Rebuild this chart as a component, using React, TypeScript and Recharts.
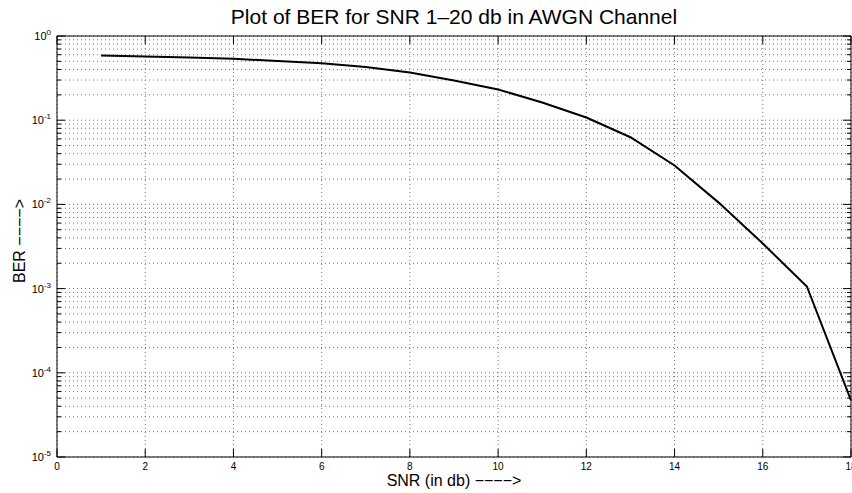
import React from 'react';
import { LineChart, Line, XAxis, YAxis, CartesianGrid, ReferenceArea } from 'recharts';

const snr = [1, 2, 3, 4, 5, 6, 7, 8, 9, 10, 11, 12, 13, 14, 15, 16, 17, 18];
const ber = [
  0.587, 0.571, 0.556, 0.536, 0.505, 0.475, 0.428, 0.369, 0.296,
  0.232, 0.162, 0.1076, 0.0628, 0.029, 0.0105, 0.00343, 0.00106, 0.000047,
];

const xTicks = [0, 2, 4, 6, 8, 10, 12, 14, 16, 18];
const yExponents = [-5, -4, -3, -2, -1, 0];
const yMantissas = [1, 2, 3, 4, 5, 6, 7, 8, 9];

const data = snr.map((s, i) => ({ snr: s, ber: ber[i] }));

// log-scale ticks: each decade plus its minor steps
const yTicks: number[] = [];
yExponents.forEach((e, i) => {
  if (i === yExponents.length - 1) {
    yTicks.push(Math.pow(10, e));
    return;
  }
  yMantissas.forEach((m) => yTicks.push(Number((m * Math.pow(10, e)).toPrecision(3))));
});

const W = 852;
const H = 493;
const PLOT_L = 57;
const PLOT_R = 851;
const PLOT_T = 36;
const PLOT_B = 457;
const FONT = '"Liberation Sans", Arial, sans-serif';

const isDecade = (v: number) => {
  const l = Math.log10(v);
  return Math.abs(l - Math.round(l)) < 1e-9;
};

const YTick = (props: any) => {
  const { y, payload } = props;
  const v = payload.value as number;
  const major = isDecade(v);
  const len = major ? 8 : 4;
  return (
    <g>
      <line x1={PLOT_L} x2={PLOT_L + len} y1={y} y2={y} stroke="#000" strokeWidth={1} />
      <line x1={PLOT_R - len} x2={PLOT_R} y1={y} y2={y} stroke="#000" strokeWidth={1} />
      {major && (
        <text x={PLOT_L - 6} y={y + 4} textAnchor="end" fontFamily={FONT} fontSize={11} fill="#000">
          10
          <tspan dy={-5} fontSize={8}>{Math.round(Math.log10(v))}</tspan>
        </text>
      )}
    </g>
  );
};

const XTick = (props: any) => {
  const { x, payload } = props;
  return (
    <g>
      <line x1={x} x2={x} y1={PLOT_B} y2={PLOT_B - 8} stroke="#000" strokeWidth={1} />
      <line x1={x} x2={x} y1={PLOT_T} y2={PLOT_T + 8} stroke="#000" strokeWidth={1} />
      <text x={x} y={PLOT_B + 13} textAnchor="middle" fontFamily={FONT} fontSize={10} fill="#000">
        {payload.value}
      </text>
    </g>
  );
};

export default function App() {
  return (
    <div style={{ position: 'fixed', left: 0, top: 0, width: W, height: H, background: '#fff' }}>
      <LineChart width={W} height={H} data={data} margin={{ top: PLOT_T, right: W - PLOT_R, left: 0, bottom: 0 }}>
        <CartesianGrid stroke="#777" strokeDasharray="1 3" strokeWidth={1} />
        <XAxis
          dataKey="snr"
          type="number"
          domain={[0, 18]}
          ticks={xTicks}
          interval={0}
          tickLine={false}
          axisLine={false}
          tick={XTick}
          height={H - PLOT_B}
        />
        <YAxis
          type="number"
          scale="log"
          domain={[1e-5, 1]}
          allowDataOverflow
          ticks={yTicks}
          interval={0}
          tickLine={false}
          axisLine={false}
          tick={YTick}
          width={PLOT_L}
        />
        <ReferenceArea x1={0} x2={18} y1={1e-5} y2={1} fill="none" stroke="#000" strokeWidth={1} ifOverflow="visible" />
        <Line
          type="linear"
          dataKey="ber"
          stroke="#000"
          strokeWidth={2}
          dot={false}
          isAnimationActive={false}
        />
      </LineChart>
      <svg width={W} height={H} style={{ position: 'absolute', left: 0, top: 0, pointerEvents: 'none' }}>
        <text x={(PLOT_L + PLOT_R) / 2} y={24} textAnchor="middle" fontFamily={FONT} fontSize={21} fill="#000">
          Plot of BER for SNR 1–20 db in AWGN Channel
        </text>
        <text x={(PLOT_L + PLOT_R) / 2} y={486} textAnchor="middle" fontFamily={FONT} fontSize={16} fill="#000">
          SNR (in db) −−−−&gt;
        </text>
        <text transform="translate(25,241) rotate(-90)" textAnchor="middle" fontFamily={FONT} fontSize={16} fill="#000">
          BER −−−−&gt;
        </text>
      </svg>
    </div>
  );
}
